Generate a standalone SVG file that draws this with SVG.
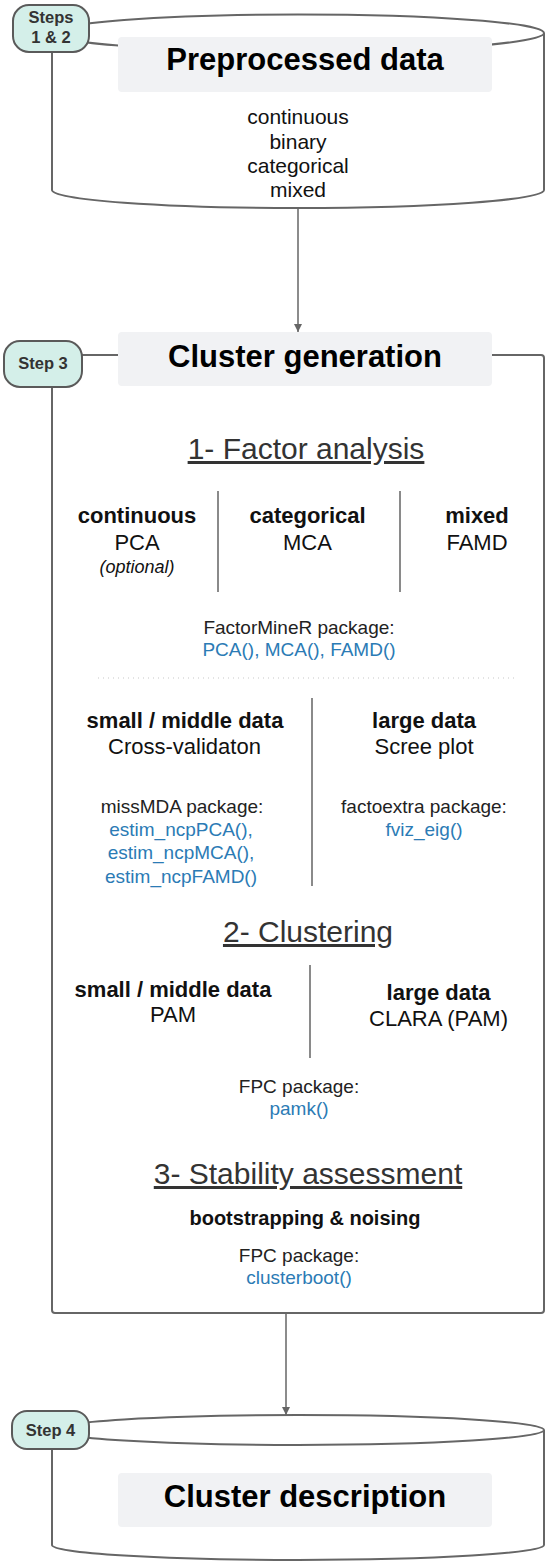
<svg xmlns="http://www.w3.org/2000/svg" width="551" height="1566" viewBox="0 0 551 1566">
  <defs>
    <marker id="arrow" viewBox="0 0 8 10" refX="8" refY="5" markerWidth="8" markerHeight="10" markerUnits="userSpaceOnUse" orient="auto">
      <path d="M0,1 L8,5 L0,9 Z" fill="#666"/>
    </marker>
    <style>
      text { font-family: "Liberation Sans", Arial, sans-serif; text-anchor: middle; fill: #111; }
      .shape { fill: #fff; stroke: #666; stroke-width: 2; }
      .badge { fill: #d4efe9; stroke: #5a5a5a; stroke-width: 2; }
      .badge-t { font-size: 16.5px; font-weight: bold; fill: #333; }
      .titlebox { fill: #f1f2f4; stroke: none; }
      .title { font-size: 31px; font-weight: bold; fill: #000; }
      .head { font-size: 30px; fill: #333; text-decoration: underline; }
      .b22 { font-size: 22px; font-weight: bold; }
      .r22 { font-size: 22px; }
      .r21 { font-size: 21px; }
      .pkg { font-size: 19px; fill: #222; }
      .fn { font-size: 19px; fill: #2b7bb5; }
      .div { stroke: #8a8a8a; stroke-width: 2; }
      .conn { stroke: #666; stroke-width: 1.5; fill: none; }
    </style>
  </defs>

  <g id="preprocessed-data">
    <path class="shape" d="M52,33 A246,18.5 0 0 1 544,33 L544,190 A246,18 0 0 1 52,190 Z"/>
    <path class="shape" fill="none" d="M52,33 A246,18.5 0 0 0 544,33"/>
    <rect class="titlebox" x="118" y="37" width="374" height="55" rx="4"/>
    <text class="title" x="305" y="70">Preprocessed data</text>
    <text class="r21" x="298" y="124">continuous</text>
    <text class="r21" x="298" y="148.5">binary</text>
    <text class="r21" x="298" y="173">categorical</text>
    <text class="r21" x="298" y="197">mixed</text>
  </g>
  <g id="badge-steps12">
    <rect class="badge" x="13" y="5" width="76" height="47" rx="16"/>
    <text class="badge-t" x="51" y="23">Steps</text>
    <text class="badge-t" x="51" y="43">1 &amp; 2</text>
  </g>

  <g id="cluster-generation">
    <rect class="shape" x="52" y="355" width="492" height="958" rx="3"/>
    <rect class="titlebox" x="118" y="332" width="374" height="54" rx="4"/>
    <text class="title" x="305" y="367">Cluster generation</text>

    <text class="head" x="306" y="459">1- Factor analysis</text>
    <text class="b22" x="137" y="523">continuous</text>
    <text class="r22" x="137" y="550">PCA</text>
    <text x="137" y="573" style="font-size:18px;font-style:italic">(optional)</text>
    <text class="b22" x="307.5" y="523">categorical</text>
    <text class="r22" x="307.5" y="550">MCA</text>
    <text class="b22" x="477" y="523">mixed</text>
    <text class="r22" x="477" y="550">FAMD</text>
    <line class="div" x1="218" y1="491" x2="218" y2="592"/>
    <line class="div" x1="400" y1="491" x2="400" y2="592"/>
    <text class="pkg" x="299" y="634">FactorMineR package:</text>
    <text class="fn" x="299" y="656">PCA(), MCA(), FAMD()</text>
    <line x1="98" y1="678" x2="518" y2="678" stroke="#c8c8c8" stroke-width="1.2" stroke-dasharray="1 4"/>

    <text class="b22" x="185" y="728">small / middle data</text>
    <text class="r22" x="184.5" y="754">Cross-validaton</text>
    <text class="b22" x="424" y="728">large data</text>
    <text class="r22" x="424" y="754">Scree plot</text>
    <line class="div" x1="312" y1="698" x2="312" y2="886"/>
    <text class="pkg" x="182" y="813">missMDA package:</text>
    <text class="fn" x="181" y="836">estim_ncpPCA(),</text>
    <text class="fn" x="181" y="859">estim_ncpMCA(),</text>
    <text class="fn" x="181" y="883">estim_ncpFAMD()</text>
    <text class="pkg" x="424" y="813">factoextra package:</text>
    <text class="fn" x="424" y="836">fviz_eig()</text>

    <text class="head" x="308" y="942">2- Clustering</text>
    <text class="b22" x="173" y="997">small / middle data</text>
    <text class="r22" x="173" y="1022">PAM</text>
    <text class="b22" x="438.5" y="1000">large data</text>
    <text class="r22" x="438.5" y="1026">CLARA (PAM)</text>
    <line class="div" x1="310" y1="965" x2="310" y2="1058"/>
    <text class="pkg" x="299" y="1093">FPC package:</text>
    <text class="fn" x="299" y="1115">pamk()</text>

    <text class="head" x="308" y="1184">3- Stability assessment</text>
    <text x="305" y="1225" style="font-size:20px;font-weight:bold">bootstrapping &amp; noising</text>
    <text class="pkg" x="299" y="1262">FPC package:</text>
    <text class="fn" x="299" y="1284">clusterboot()</text>
  </g>
  <g id="badge-step3">
    <rect class="badge" x="4" y="341" width="78" height="46" rx="16"/>
    <text class="badge-t" x="43" y="369">Step 3</text>
  </g>

  <g id="cluster-description">
    <path class="shape" d="M52,1430 A246,15 0 0 1 544,1430 L544,1545 A246,15 0 0 1 52,1545 Z"/>
    <path class="shape" fill="none" d="M52,1430 A246,15 0 0 0 544,1430"/>
    <rect class="titlebox" x="118" y="1473" width="374" height="54" rx="4"/>
    <text class="title" x="305" y="1507">Cluster description</text>
  </g>
  <g id="badge-step4">
    <rect class="badge" x="12" y="1411" width="77" height="38" rx="15"/>
    <text class="badge-t" x="50.5" y="1436">Step 4</text>
  </g>

  <g id="connectors">
    <line class="conn" x1="298" y1="208" x2="298" y2="332" marker-end="url(#arrow)"/>
    <line class="conn" x1="286" y1="1314" x2="286" y2="1415" marker-end="url(#arrow)"/>
  </g>
</svg>
